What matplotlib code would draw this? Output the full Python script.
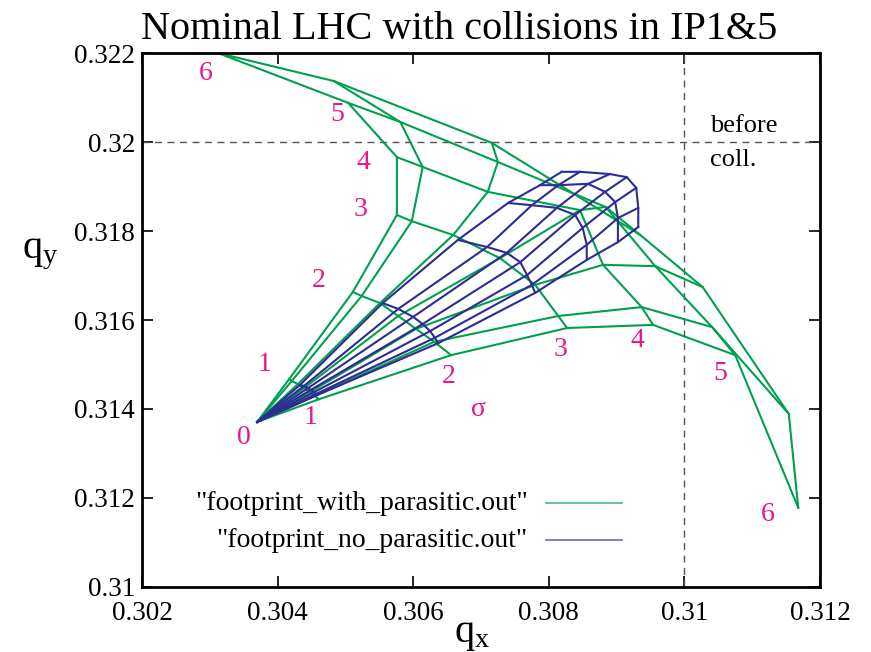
import matplotlib
matplotlib.use("Agg")
import matplotlib.pyplot as plt
from matplotlib.ticker import FuncFormatter, MultipleLocator

plt.rcParams["font.family"] = ["Liberation Serif", "DejaVu Serif"]
plt.rcParams["mathtext.fontset"] = "custom"
plt.rcParams["mathtext.rm"] = "Liberation Serif"
plt.rcParams["mathtext.it"] = "Liberation Serif"

# tune footprints: rows = amplitude 1..6 sigma, columns = angle (vertical -> horizontal)
origin_qx = 0.30370
origin_qy = 0.31371

green_qx = [
    [0.30417, 0.30421, 0.30430, 0.30439, 0.30448, 0.30455, 0.30461],
    [0.30511, 0.30524, 0.30551, 0.30578, 0.30604, 0.30631, 0.30656],
    [0.30576, 0.30598, 0.30659, 0.30728, 0.30780, 0.30814, 0.30827],
    [0.30576, 0.30614, 0.30710, 0.30846, 0.30880, 0.30937, 0.30954],
    [0.30504, 0.30581, 0.30725, 0.30884, 0.30957, 0.31041, 0.31075],
    [0.30312, 0.30483, 0.30716, 0.30935, 0.31027, 0.31154, 0.31168],
]
green_qy = [
    [0.31467, 0.31463, 0.31456, 0.31447, 0.31438, 0.31429, 0.31422],
    [0.31663, 0.31654, 0.31638, 0.31609, 0.31580, 0.31551, 0.31521],
    [0.31836, 0.31822, 0.31791, 0.31739, 0.31679, 0.31609, 0.31582],
    [0.31966, 0.31944, 0.31888, 0.31847, 0.31724, 0.31629, 0.31589],
    [0.32088, 0.32045, 0.31955, 0.31854, 0.31721, 0.31584, 0.31521],
    [0.32200, 0.32137, 0.31998, 0.31791, 0.31674, 0.31389, 0.31178],
]

blue_qx = [
    [0.30433, 0.30439, 0.30445, 0.30449, 0.30454, 0.30457, 0.30458],
    [0.30555, 0.30578, 0.30600, 0.30614, 0.30625, 0.30632, 0.30637],
    [0.30666, 0.30709, 0.30738, 0.30758, 0.30768, 0.30775, 0.30780],
    [0.30740, 0.30775, 0.30812, 0.30839, 0.30850, 0.30856, 0.30856],
    [0.30787, 0.30814, 0.30858, 0.30883, 0.30898, 0.30902, 0.30902],
    [0.30819, 0.30846, 0.30890, 0.30915, 0.30929, 0.30932, 0.30932],
]
blue_qy = [
    [0.31454, 0.31452, 0.31447, 0.31443, 0.31438, 0.31434, 0.31431],
    [0.31638, 0.31625, 0.31607, 0.31591, 0.31575, 0.31560, 0.31548],
    [0.31780, 0.31764, 0.31751, 0.31730, 0.31701, 0.31679, 0.31661],
    [0.31863, 0.31858, 0.31852, 0.31836, 0.31807, 0.31769, 0.31735],
    [0.31903, 0.31903, 0.31906, 0.31888, 0.31865, 0.31829, 0.31775],
    [0.31933, 0.31933, 0.31928, 0.31921, 0.31897, 0.31852, 0.31809],
]

# amplitude labels (text, qx, qy)
sigma_labels = ["6", "5", "4", "3", "2", "1", "0", "1", "2", "3", "4", "5", "6", "σ"]
sigma_label_qx = [0.30294, 0.30488, 0.30526, 0.30523, 0.30460, 0.30381, 0.30350,
                  0.30448, 0.30653, 0.30817, 0.30930, 0.31053, 0.31123, 0.30697]
sigma_label_qy = [0.32153, 0.32061, 0.31955, 0.31849, 0.31688, 0.31499, 0.31335,
                  0.31380, 0.31474, 0.31533, 0.31553, 0.31479, 0.31164, 0.31398]

nominal_qx = 0.31
nominal_qy = 0.32

series_names = ['"footprint_with_parasitic.out"', '"footprint_no_parasitic.out"']
GREEN = "#00a04e"
BLUE = "#2c2c94"
PINK = "#e8168c"


def draw_mesh(ax, qx, qy, color):
    n_amp = len(qx)
    n_ang = len(qx[0])
    # radial lines (constant angle)
    for j in range(n_ang):
        xs = [origin_qx] + [qx[i][j] for i in range(n_amp)]
        ys = [origin_qy] + [qy[i][j] for i in range(n_amp)]
        ax.plot(xs, ys, color=color, lw=1.5, solid_joinstyle="miter")
    # amplitude arcs
    for i in range(n_amp):
        ax.plot(qx[i], qy[i], color=color, lw=1.5, solid_joinstyle="miter")


fig = plt.figure(figsize=(8.71, 6.52), dpi=100)
ax = fig.add_axes([0.163, 0.0997, 0.7784, 0.819])

ax.axvline(nominal_qx, color="#555555", lw=1.0, ls=(0, (5, 4)))
ax.axhline(nominal_qy, color="#555555", lw=1.0, ls=(0, (5, 4)))

draw_mesh(ax, green_qx, green_qy, GREEN)
draw_mesh(ax, blue_qx, blue_qy, BLUE)

for t, x, y in zip(sigma_labels, sigma_label_qx, sigma_label_qy):
    ax.text(x, y, t, color=PINK, fontsize=20, ha="center", va="center")

ax.text(0.31038, 0.32036, "before", fontsize=19, ha="left", va="center")
ax.text(0.31038, 0.31960, "coll.", fontsize=19, ha="left", va="center")

# legend drawn by hand so the text is right-aligned like gnuplot
for k, (name, color) in enumerate(zip(series_names, [GREEN, BLUE])):
    yk = 0.157 - k * 0.069
    ax.text(0.569, yk, name, transform=ax.transAxes, fontsize=20, ha="right", va="center")
    ax.plot([0.596, 0.708], [yk, yk], transform=ax.transAxes, color=color, lw=1.2, alpha=0.7)

ax.set_xlim(0.302, 0.312)
ax.set_ylim(0.31, 0.322)
ax.xaxis.set_major_locator(MultipleLocator(0.002))
ax.yaxis.set_major_locator(MultipleLocator(0.002))
fmt = FuncFormatter(lambda v, pos: f"{round(v, 4):g}")
ax.xaxis.set_major_formatter(fmt)
ax.yaxis.set_major_formatter(fmt)
ax.tick_params(direction="in", length=8, width=1.2, top=True, right=True, labelsize=19.5)
ax.tick_params(axis="x", pad=10)
ax.tick_params(axis="y", pad=5)
for s in ax.spines.values():
    s.set_linewidth(2.0)

ax.set_xlabel(r"$\mathregular{q_x}$", fontsize=29)
ax.xaxis.set_label_coords(0.487, -0.055)
ax.set_ylabel(r"$\mathregular{q_y}$", fontsize=29, rotation=0)
ax.yaxis.set_label_coords(-0.15, 0.59)

fig.text(0.527, 0.955, "Nominal LHC with collisions in IP1&5", fontsize=29,
         ha="center", va="center")

fig.savefig("out.png", dpi=100)
